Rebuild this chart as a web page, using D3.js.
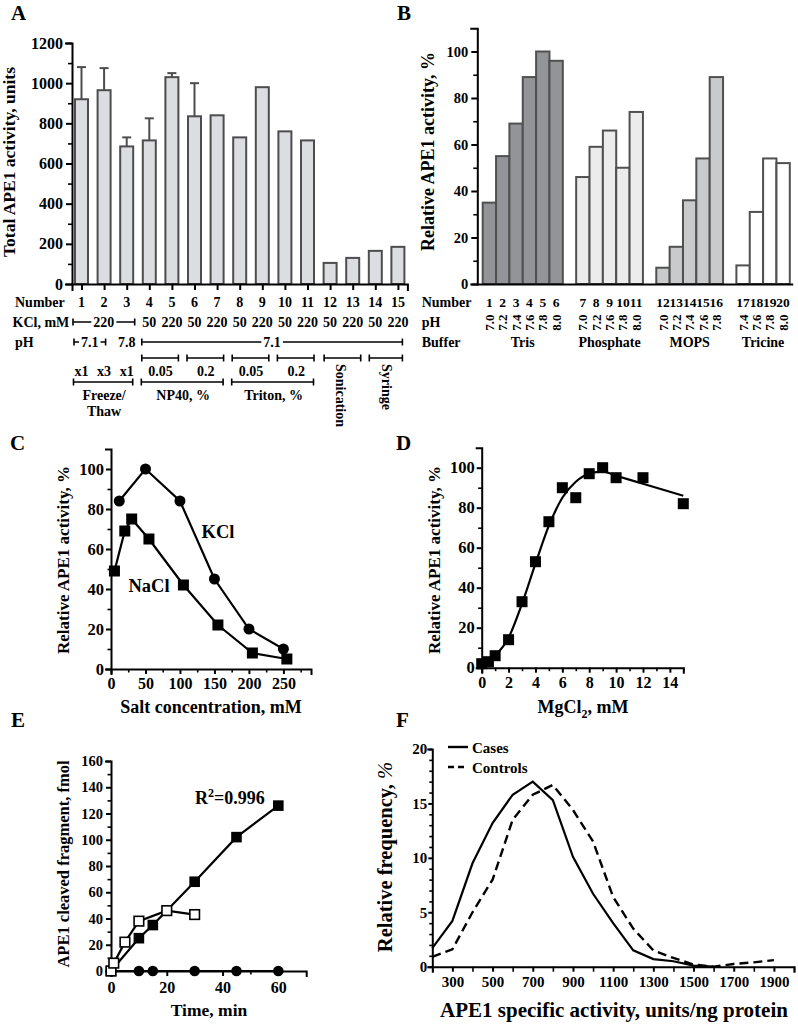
<!DOCTYPE html>
<html><head><meta charset="utf-8">
<script src="https://cdn.jsdelivr.net/npm/d3@7"></script>
<style>body{margin:0;background:#fff}</style>
</head><body><script>
// ---------------- DATA ----------------
// Panel A
const aNumbers = [1,2,3,4,5,6,7,8,9,10,11,12,13,14,15];
const aActivity = [920,965,685,715,1030,835,840,730,980,760,715,105,130,165,185];
const aErrorTop = [1080,1075,730,825,1050,1000,null,null,null,null,null,null,null,null,null];
const aKCl = ["220","220","220","50","220","50","220","50","220","50","220","50","220","50","220"];
const aPH = ["7.1","7.1","7.8","7.1","7.1","7.1","7.1","7.1","7.1","7.1","7.1","7.1","7.1","7.1","7.1"];
const aMethod = ["Freeze/Thaw","Freeze/Thaw","Freeze/Thaw","NP40, %","NP40, %","NP40, %","NP40, %","Triton, %","Triton, %","Triton, %","Triton, %","Sonication","Sonication","Syringe","Syringe"];
const aLevel = ["x1","x3","x1","0.05","0.05","0.2","0.2","0.05","0.05","0.2","0.2","","","",""];
const aYTicks = [0,200,400,600,800,1000,1200];
const aYMinor = [100,300,500,700,900,1100];
// Panel B
const bNumbers = [1,2,3,4,5,6,7,8,9,10,11,12,13,14,15,16,17,18,19,20];
const bBuffers = ["Tris","Phosphate","MOPS","Tricine"];
const bBufferOf = ["Tris","Tris","Tris","Tris","Tris","Tris","Phosphate","Phosphate","Phosphate","Phosphate","Phosphate","MOPS","MOPS","MOPS","MOPS","MOPS","Tricine","Tricine","Tricine","Tricine"];
const bPH = ["7.0","7.2","7.4","7.6","7.8","8.0","7.0","7.2","7.6","7.8","8.0","7.0","7.2","7.4","7.6","7.8","7.4","7.6","7.8","8.0"];
const bActivity = [35,55,69,89,100,96,46,59,66,50,74,7,16,36,54,89,8,31,54,52];
const bYTicks = [0,20,40,60,80,100];
const bYMinor = [10,30,50,70,90];
// Panel C
const cKClX = [12,50,100,150,200,250];
const cKClY = [84,100,84,45,20,10];
const cNaClX = [5,20,30,55,105,155,205,255];
const cNaClY = [49,69,75,65,42,22,8,5];
const cXTicks = [0,50,100,150,200,250];
const cXMinor = [25,75,125,175,225,275];
const cYTicks = [0,20,40,60,80,100];
const cYMinor = [10,30,50,70,90];
// Panel D
const dMgX = [0,0.5,1,2,3,4,5,6,7,8,9,10,12,15];
const dMgY = [2,3,6,14,33,53,73,90,85,97,100,95,95,82];
const dFitX = [1,2,3,4,5,6,7,8,9,10,12,15];
const dFitY = [6,15,32,52,71,85,93,97,98,96,92,86];
const dXTicks = [0,2,4,6,8,10,12,14];
const dXMinor = [1,3,5,7,9,11,13,15];
// Panel E
const eTime = [0,10,15,30,45,60];
const eActive = [0,25,35,68,102,126];
const eEarlyTime = [0,1,5,10,20,30];
const eEarly = [0,6,22,38,46,43];
const eCtrlTime = [0,10,15,30,45,60];
const eCtrl = [0,0,0,0,0,0];
const eXTicks = [0,20,40,60];
const eXMinor = [10,30,50];
const eYTicks = [0,20,40,60,80,100,120,140,160];
const eYMinor = [10,30,50,70,90,110,130,150];
// Panel F
const fActivity = [200,300,400,500,600,700,800,900,1000,1100,1200,1300,1400,1500,1600,1700,1800,1900];
const fCases = [1.7,4.2,9.5,13.2,15.8,17.0,15.3,10.1,6.7,4.0,1.5,0.7,0.5,0.1,0,null,null,null];
const fControls = [0.9,1.6,5.0,8.0,13.5,15.8,16.7,14.4,11.5,6.4,3.5,1.5,0.8,0.2,0,0.25,0.4,0.6];
const fXTicks = [300,500,700,900,1100,1300,1500,1700,1900];
const fXMinor = [200,400,600,800,1000,1200,1400,1600,1800,2000];
const fYTicks = [0,5,10,15,20];
const fYMinor = [1,2,3,4,6,7,8,9,11,12,13,14,16,17,18,19];

// ---------------- DRAWING ----------------
const FONT = "'Liberation Serif','Times New Roman',Times,serif";
const svg = d3.select("body").append("svg").attr("width",798).attr("height",1025)
  .attr("font-family",FONT).attr("font-weight","bold");

function addAxis(g, axisFn, scale, pos, horizontal, o){
  const ax = axisFn(scale).tickSizeOuter(0).tickSize(o.size).tickPadding(o.pad);
  ax.tickValues(o.values || []);
  ax.tickFormat(o.format || (d=>d));
  const tr = horizontal ? `translate(0,${pos})` : `translate(${pos},0)`;
  const a = g.append("g").attr("transform", tr).call(ax)
    .attr("font-family",FONT).attr("font-size",o.fs||14).attr("font-weight","bold");
  a.select(".domain").attr("stroke","#000").attr("stroke-width",2).attr("stroke-linecap","square");
  a.selectAll(".tick line").attr("stroke","#000").attr("stroke-width",2);
  a.selectAll(".tick text").attr("fill","#000");
  if (o.minor){
    const m = g.append("g").attr("transform", tr)
      .call(axisFn(scale).tickValues(o.minor).tickSize(o.msize).tickFormat(""));
    m.select(".domain").remove();
    m.selectAll(".tick line").attr("stroke","#000").attr("stroke-width",1.6);
  }
  return a;
}
function txt(g, x, y, s, fs, anchor){
  return g.append("text").attr("x",x).attr("y",y).attr("font-size",fs)
    .attr("text-anchor",anchor||"middle").attr("fill","#000").text(s);
}
function vtitle(g, x, y, s, fs){
  return g.append("text").attr("transform",`translate(${x},${y}) rotate(-90)`)
    .attr("text-anchor","middle").attr("font-size",fs).attr("fill","#000").text(s);
}
function bracket(g, x1, x2, y, label, fs){
  g.append("line").attr("x1",x1).attr("x2",x2).attr("y1",y).attr("y2",y).attr("stroke","#000").attr("stroke-width",1.6);
  [x1,x2].forEach(x=>g.append("line").attr("x1",x).attr("x2",x).attr("y1",y-3.5).attr("y2",y+3.5).attr("stroke","#000").attr("stroke-width",1.6));
  if (label){
    const t = txt(g,(x1+x2)/2,y+4.8,label,fs);
    const bb = t.node().getBBox();
    g.insert("rect",()=>t.node()).attr("x",bb.x-2).attr("y",bb.y).attr("width",bb.width+4).attr("height",bb.height).attr("fill","#fff");
  }
}
function runs(arr){
  const out=[]; arr.forEach((v,i)=>{ if(out.length && out[out.length-1].v===v) out[out.length-1].e=i; else out.push({v,s:i,e:i}); });
  return out;
}
function panelLabel(x,y,s){ txt(svg,x,y,s,21,"start"); }

// ===== Panel A =====
(function(){
  const g = svg.append("g");
  const xA = d3.scalePoint().domain(aNumbers).range([72,407.4]).padding(0.42);
  const yA = d3.scaleLinear().domain([0,1200]).range([284,43]);
  const bw = xA.step()*0.575;
  g.selectAll("rect.bar").data(aActivity).join("rect").attr("class","bar")
    .attr("x",(d,i)=>xA(aNumbers[i])-bw/2).attr("y",d=>yA(d))
    .attr("width",bw).attr("height",d=>yA(0)-yA(d))
    .attr("fill","#dcdde0").attr("stroke","#4d4d4d").attr("stroke-width",2);
  aErrorTop.forEach((e,i)=>{
    if(e==null) return;
    const x = xA(aNumbers[i]);
    g.append("line").attr("x1",x).attr("x2",x).attr("y1",yA(aActivity[i])).attr("y2",yA(e)).attr("stroke","#4d4d4d").attr("stroke-width",2);
    g.append("line").attr("x1",x-4.5).attr("x2",x+4.5).attr("y1",yA(e)).attr("y2",yA(e)).attr("stroke","#4d4d4d").attr("stroke-width",2);
  });
  addAxis(g,d3.axisLeft,yA,72,false,{values:aYTicks,size:6,pad:3,fs:16,minor:aYMinor,msize:4});
  addAxis(g,d3.axisBottom,xA,284,true,{values:aNumbers,size:6,pad:0,fs:1,format:()=>""});
  vtitle(g,15,162,"Total APE1 activity, units",17.5);
  // rows
  txt(g,15,306.5,"Number",14,"start");
  txt(g,12.5,326.5,"KCl, mM",14,"start");
  txt(g,15,346.5,"pH",14,"start");
  aNumbers.forEach(n=>txt(g,xA(n),306.5,String(n),14));
  runs(aKCl).forEach(r=>{
    if(r.e>r.s) bracket(g,xA(aNumbers[r.s])-8.5,xA(aNumbers[r.e])+8,322,r.v,14);
    else txt(g,xA(aNumbers[r.s]),326.5,r.v,14);
  });
  runs(aPH).forEach(r=>{
    if(r.e>r.s) bracket(g,xA(aNumbers[r.s])-7.5,xA(aNumbers[r.e])+(r.e===14?4.5:1.5),342,r.v,14);
    else txt(g,xA(aNumbers[r.s]),346.5,r.v,14);
  });
  runs(aMethod).forEach(r=>{
    const x1 = xA(aNumbers[r.s]), x2 = xA(aNumbers[r.e]);
    const lv = aLevel.slice(r.s,r.e+1);
    if(lv.every(l=>l==="")){
      bracket(g,x1-6,x2+(r.e===14?4.5:8),358,null);
      g.append("text").attr("transform",`translate(${(x1+x2)/2},364) rotate(90)`)
        .attr("dy","0.35em").attr("font-size",14).attr("fill","#000").text(r.v);
    } else {
      runs(lv).forEach(q=>{
        const a = xA(aNumbers[r.s+q.s]), b = xA(aNumbers[r.s+q.e]);
        if(q.e>q.s){ bracket(g,a-7.5,b+6.5,358,null); txt(g,(a+b)/2,376,q.v,14); }
        else txt(g,a,376,q.v,14);
      });
      bracket(g,x1-8,x2+6,382,null);
      const parts = r.v.includes("/") ? [r.v.split("/")[0]+"/", r.v.split("/")[1]] : [r.v];
      parts.forEach((p,k)=>txt(g,(x1+x2)/2,400+k*16,p,14));
    }
  });
})();
panelLabel(11,20,"A");

// ===== Panel B =====
(function(){
  const g = svg.append("g");
  const slots = [];
  bNumbers.forEach((n,i)=>{ if(i>0 && bBufferOf[i]!==bBufferOf[i-1]) slots.push("gap"+i); slots.push(String(n)); });
  const xB = d3.scaleBand().domain(slots).range([482.7,789.8]).padding(0);
  const yB = d3.scaleLinear().domain([0,110]).range([284,28.25]);
  const fillB = d3.scaleOrdinal().domain(bBuffers).range(["#939497","#ececed","#c9cacc","#ffffff"]);
  g.selectAll("rect.bar").data(bActivity).join("rect").attr("class","bar")
    .attr("x",(d,i)=>xB(String(bNumbers[i]))).attr("y",d=>yB(d))
    .attr("width",xB.bandwidth()).attr("height",d=>yB(0)-yB(d))
    .attr("fill",(d,i)=>fillB(bBufferOf[i])).attr("stroke","#505050").attr("stroke-width",2);
  addAxis(g,d3.axisLeft,yB,477.3,false,{values:bYTicks,size:6,pad:3,fs:14.5,minor:bYMinor,msize:4});
  const xLine = d3.scaleLinear().range([477.3,791.7]);
  addAxis(g,d3.axisBottom,xLine,284,true,{values:[],size:0,pad:0,fs:1});
  vtitle(g,433.5,151.5,"Relative APE1 activity, %",18);
  txt(g,421.7,306.5,"Number",14,"start");
  txt(g,421.7,327,"pH",14,"start");
  txt(g,421.7,347,"Buffer",14,"start");
  bNumbers.forEach((n,i)=>{
    const cx = xB(String(n))+xB.bandwidth()/2;
    txt(g,cx,306.5,String(n),13.5);
    g.append("text").attr("transform",`translate(${cx},322.5) rotate(-90)`).attr("text-anchor","middle")
      .attr("dy","0.35em").attr("font-size",13).attr("fill","#000").text(bPH[i]);
  });
  bBuffers.forEach(b=>{
    const idx = bNumbers.filter((n,i)=>bBufferOf[i]===b);
    const x1 = xB(String(idx[0])), x2 = xB(String(idx[idx.length-1]))+xB.bandwidth();
    txt(g,(x1+x2)/2,347,b,14);
  });
})();
panelLabel(397,20,"B");

// ===== Panel C =====
(function(){
  const g = svg.append("g");
  const xC = d3.scaleLinear().domain([0,290]).range([111,311]);
  const yC = d3.scaleLinear().domain([0,110]).range([669,449]);
  addAxis(g,d3.axisLeft,yC,111,false,{values:cYTicks,size:5,pad:2,fs:16.5,minor:cYMinor,msize:3.5});
  addAxis(g,d3.axisBottom,xC,669,true,{values:cXTicks,size:5,pad:4,fs:16,minor:cXMinor,msize:3.5});
  const line = d3.line().x(d=>xC(d[0])).y(d=>yC(d[1]));
  const kcl = cKClX.map((x,i)=>[x,cKClY[i]]), nacl = cNaClX.map((x,i)=>[x,cNaClY[i]]);
  g.append("path").attr("d",line(kcl)).attr("fill","none").attr("stroke","#000").attr("stroke-width",2.2);
  g.append("path").attr("d",line(nacl)).attr("fill","none").attr("stroke","#000").attr("stroke-width",2.2);
  g.selectAll("circle.k").data(kcl).join("circle").attr("class","k").attr("cx",d=>xC(d[0])).attr("cy",d=>yC(d[1])).attr("r",5.5).attr("fill","#000");
  g.selectAll("rect.n").data(nacl).join("rect").attr("class","n").attr("x",d=>xC(d[0])-5.5).attr("y",d=>yC(d[1])-5.5).attr("width",11).attr("height",11).attr("fill","#000");
  txt(g,218,537.5,"KCl",18.5);
  txt(g,149,592,"NaCl",18.5);
  vtitle(g,69,560,"Relative APE1 activity, %",17);
  txt(g,211,713,"Salt concentration, mM",18);
})();
panelLabel(10,450,"C");

// ===== Panel D =====
(function(){
  const g = svg.append("g");
  const xD = d3.scaleLinear().domain([0,15]).range([481.7,683.3]);
  const yD = d3.scaleLinear().domain([0,110]).range([667.7,447.7]);
  addAxis(g,d3.axisLeft,yD,481.7,false,{values:cYTicks,size:5,pad:2,fs:16.5,minor:cYMinor,msize:3.5});
  addAxis(g,d3.axisBottom,xD,667.7,true,{values:dXTicks,size:5,pad:4,fs:16,minor:dXMinor,msize:3.5});
  const fit = dFitX.map((x,i)=>[x,dFitY[i]]);
  g.append("path").attr("d",d3.line().x(d=>xD(d[0])).y(d=>yD(d[1])).curve(d3.curveMonotoneX)(fit))
    .attr("fill","none").attr("stroke","#000").attr("stroke-width",2.2);
  g.selectAll("rect.m").data(dMgX.map((x,i)=>[x,dMgY[i]])).join("rect").attr("class","m")
    .attr("x",d=>xD(d[0])-5.5).attr("y",d=>yD(d[1])-5.5).attr("width",11).attr("height",11).attr("fill","#000");
  vtitle(g,440,560,"Relative APE1 activity, %",17);
  const t = txt(g,583,713,"MgCl",18);
  t.append("tspan").attr("dy",5).attr("font-size",12).text("2");
  t.append("tspan").attr("dy",-5).text(", mM");
})();
panelLabel(396,450,"D");

// ===== Panel E =====
(function(){
  const g = svg.append("g");
  const xE = d3.scaleLinear().domain([0,70]).range([111,306.2]);
  const yE = d3.scaleLinear().domain([0,160]).range([971,761]);
  addAxis(g,d3.axisLeft,yE,111,false,{values:eYTicks,size:5,pad:3,fs:14.5,minor:eYMinor,msize:3.5});
  addAxis(g,d3.axisBottom,xE,971,true,{values:eXTicks,size:5,pad:6,fs:16,minor:eXMinor,msize:3.5});
  const line = d3.line().x(d=>xE(d[0])).y(d=>yE(d[1]));
  const act = eTime.map((x,i)=>[x,eActive[i]]);
  const early = eEarlyTime.map((x,i)=>[x,eEarly[i]]);
  const ctrl = eCtrlTime.map((x,i)=>[x,eCtrl[i]]);
  [act,early,ctrl].forEach(s=>g.append("path").attr("d",line(s)).attr("fill","none").attr("stroke","#000").attr("stroke-width",2.2));
  g.selectAll("circle.c").data(ctrl).join("circle").attr("class","c").attr("cx",d=>xE(d[0])).attr("cy",d=>yE(d[1])).attr("r",5.3).attr("fill","#000");
  g.selectAll("rect.a").data(act).join("rect").attr("class","a").attr("x",d=>xE(d[0])-5.3).attr("y",d=>yE(d[1])-5.3).attr("width",10.6).attr("height",10.6).attr("fill","#000");
  g.selectAll("rect.o").data(early).join("rect").attr("class","o").attr("x",d=>xE(d[0])-4.8).attr("y",d=>yE(d[1])-4.8).attr("width",9.6).attr("height",9.6).attr("fill","#fff").attr("stroke","#000").attr("stroke-width",1.6);
  const r = txt(g,230,803.5,"R",18);
  r.append("tspan").attr("dy",-7).attr("font-size",12).text("2");
  r.append("tspan").attr("dy",7).text("=0.996");
  vtitle(g,69,864,"APE1 cleaved fragment, fmol",16.5);
  txt(g,209,1016,"Time, min",17.5);
})();
panelLabel(11,727,"E");

// ===== Panel F =====
(function(){
  const g = svg.append("g");
  const xF = d3.scaleLinear().domain([200,2000]).range([432.3,794]);
  const yF = d3.scaleLinear().domain([0,20]).range([966.7,749]);
  addAxis(g,d3.axisLeft,yF,432.3,false,{values:fYTicks,size:4,pad:1,fs:15,minor:fYMinor,msize:3});
  addAxis(g,d3.axisBottom,xF,966.7,true,{values:fXTicks,size:5,pad:5,fs:15,minor:fXMinor,msize:5});
  const line = d3.line().defined(d=>d[1]!=null).x(d=>xF(d[0])).y(d=>yF(d[1]));
  g.append("path").attr("d",line(fActivity.map((x,i)=>[x,fCases[i]]))).attr("fill","none").attr("stroke","#000").attr("stroke-width",2.2);
  g.append("path").attr("d",line(fActivity.map((x,i)=>[x,fControls[i]]))).attr("fill","none").attr("stroke","#000").attr("stroke-width",2.4).attr("stroke-dasharray","9,5");
  // legend
  g.append("line").attr("x1",448).attr("x2",468).attr("y1",747).attr("y2",747).attr("stroke","#000").attr("stroke-width",2.4);
  txt(g,472,752.5,"Cases",15,"start");
  g.append("line").attr("x1",448).attr("x2",468).attr("y1",767).attr("y2",767).attr("stroke","#000").attr("stroke-width",2.4).attr("stroke-dasharray","6,4");
  txt(g,472,772.5,"Controls",15,"start");
  const vt = vtitle(g,392,857,"Relative frequency, ",20.5);
  vt.append("tspan").attr("font-style","italic").attr("font-weight","normal").text("%");
  txt(g,614,1017,"APE1 specific activity, units/ng protein",21);
})();
panelLabel(396,727,"F");
</script></body></html>
